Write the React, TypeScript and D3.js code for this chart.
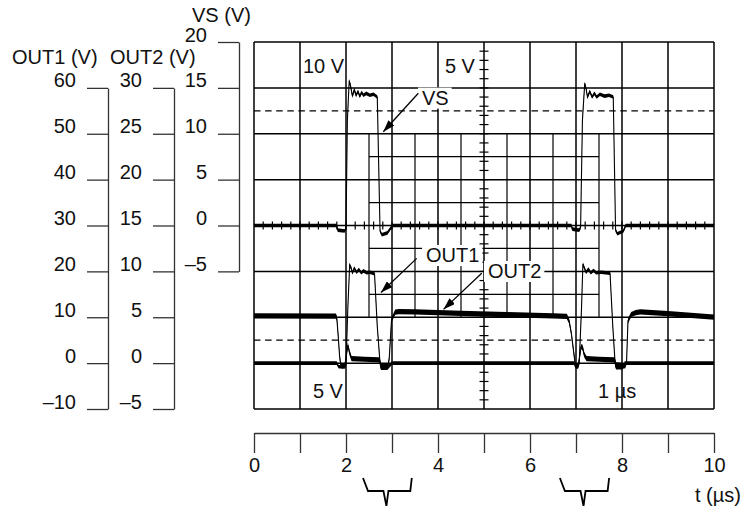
import * as d3 from "d3";
import { useEffect, useRef } from "react";

type Pt = [number, number];

// time axis, µs
const timeTicks = [0, 1, 2, 3, 4, 5, 6, 7, 8, 9, 10];
const timeLabels = [0, 2, 4, 6, 8, 10];

// the three voltage scales on the left
const out1Ticks = [60, 50, 40, 30, 20, 10, 0, -10];
const out2Ticks = [30, 25, 20, 15, 10, 5, 0, -5];
const vsTicks = [20, 15, 10, 5, 0, -5];

// overlays on the scope screen (VS units / µs)
const fineGridT = [2.5, 3.5, 4.5, 5.5, 6.5, 7.5];
const fineGridV = [7.5, 2.5, -2.5, -7.5];
const dashedLevels = [12.5, -12.5];
const zoomWindows: Pt[] = [
  [2.37, 3.43],
  [6.65, 7.72],
];

// traces: [t (µs), volts]
const vsTrace: Pt[] = [
  [0, 0], [1.8, 0], [1.82, -0.5], [1.97, -0.6], [2.0, -0.3], [2.03, 11.5],
  [2.07, 15.8], [2.1, 15.2], [2.14, 14.1], [2.18, 14.8], [2.22, 14.2],
  [2.26, 14.6], [2.3, 14.1], [2.34, 14.5], [2.38, 14.2], [2.44, 14.4],
  [2.52, 14.2], [2.6, 14.3], [2.68, 14.0], [2.74, -0.6], [2.78, -1.0],
  [2.9, -0.8], [2.97, -0.3], [3.02, 0], [6.9, 0], [6.92, -0.4], [7.07, -0.5],
  [7.1, -0.2], [7.14, 11.5], [7.19, 15.5], [7.22, 14.9], [7.25, 14.0],
  [7.3, 14.6], [7.35, 14.0], [7.4, 14.4], [7.45, 14.0], [7.52, 14.3],
  [7.62, 14.1], [7.72, 14.2], [7.81, 14.0], [7.86, -0.5], [7.9, -0.9],
  [8.03, -0.6], [8.08, 0], [10, 0],
];

const out1Trace: Pt[] = [
  [0, 0], [1.8, 0], [1.84, -0.8], [1.98, -0.8], [2.0, -0.2], [2.04, 12],
  [2.08, 21.4], [2.11, 20.8], [2.14, 19.7], [2.18, 20.7], [2.23, 19.8],
  [2.28, 20.4], [2.33, 19.7], [2.38, 20.1], [2.45, 19.7], [2.52, 19.8],
  [2.62, 19.5], [2.68, 8], [2.74, 0], [2.76, -1.1], [2.9, -1.1], [2.96, -0.4],
  [3.0, 0], [6.96, 0], [6.99, -0.8], [7.04, -0.8], [7.07, 0], [7.12, 12],
  [7.15, 21.6], [7.18, 20.8], [7.22, 19.8], [7.27, 20.5], [7.32, 19.7],
  [7.38, 20.2], [7.44, 19.7], [7.55, 19.8], [7.74, 19.6], [7.8, 8],
  [7.85, 0], [7.87, -1.0], [8.02, -1.0], [8.06, 0], [10, 0],
];

const out2Trace: Pt[] = [
  [0, 5.15], [1.78, 5.12], [1.8, 4.9], [1.83, 3.0], [1.86, 0.8], [1.88, 0.0],
  [1.9, -0.3], [1.97, -0.3], [1.99, 0.2], [2.04, 1.96], [2.08, 1.1],
  [2.12, 0.5], [2.4, 0.42], [2.73, 0.35], [2.76, -0.3], [2.91, -0.35],
  [2.94, 0.5], [2.99, 4.7], [3.07, 5.55], [3.15, 5.62], [3.5, 5.58],
  [4.5, 5.42], [5.5, 5.28], [6.5, 5.15], [6.8, 5.1], [6.85, 4.6], [6.9, 3.2],
  [6.95, 1.2], [6.98, 0.0], [7.0, -0.3], [7.05, -0.3], [7.07, 0.4],
  [7.11, 1.78], [7.14, 1.75], [7.18, 0.9], [7.23, 0.5], [7.5, 0.42],
  [7.84, 0.35], [7.87, -0.2], [8.07, -0.3], [8.1, 0.2], [8.13, 4.6],
  [8.2, 5.3], [8.3, 5.5], [8.4, 5.58], [9.0, 5.4], [10, 5.02],
];

const App = () => {
  const ref = useRef<SVGSVGElement | null>(null);

  useEffect(() => {
    const svg = d3.select(ref.current);
    svg.selectAll("*").remove();

    const width = 743,
      height = 506;
    const plot = { left: 254, right: 714, top: 42, bottom: 409 };
    const font = "'Liberation Sans', Arial, Helvetica, sans-serif";
    const fmt = (d: d3.NumberValue) =>
      +d < 0 ? `\u2013${Math.abs(+d)}` : `${d}`;

    const x = d3.scaleLinear().domain([0, 10]).range([plot.left, plot.right]);
    const yVS = d3.scaleLinear().domain([-20, 20]).range([plot.bottom, plot.top]);
    const yOut1 = d3.scaleLinear().domain([-10, 70]).range([plot.bottom, plot.top]);
    const yOut2 = d3.scaleLinear().domain([-5, 35]).range([plot.bottom, plot.top]);

    svg.append("rect").attr("width", width).attr("height", height).attr("fill", "#fff");

    svg
      .append("defs")
      .append("marker")
      .attr("id", "arrowhead")
      .attr("markerUnits", "userSpaceOnUse")
      .attr("viewBox", "0 0 12 8")
      .attr("markerWidth", 12)
      .attr("markerHeight", 8)
      .attr("refX", 12)
      .attr("refY", 4)
      .attr("orient", "auto")
      .append("path")
      .attr("d", "M0,0L12,4L0,8Z")
      .attr("fill", "#000");

    // graticule
    const grid = svg.append("g").attr("stroke", "#000").attr("stroke-width", 1.5);
    grid
      .selectAll(".gv")
      .data(timeTicks)
      .join("line")
      .attr("class", "gv")
      .attr("x1", (d) => x(d))
      .attr("x2", (d) => x(d))
      .attr("y1", plot.top)
      .attr("y2", plot.bottom);
    grid
      .selectAll(".gh")
      .data(d3.range(-20, 21, 5))
      .join("line")
      .attr("class", "gh")
      .attr("x1", plot.left)
      .attr("x2", plot.right)
      .attr("y1", (d) => yVS(d))
      .attr("y2", (d) => yVS(d));

    // half-division grid left over from the zoomed screen
    const fine = svg.append("g").attr("stroke", "#000").attr("stroke-width", 1.2);
    fine
      .selectAll(".fv")
      .data(fineGridT)
      .join("line")
      .attr("class", "fv")
      .attr("x1", (d) => x(d))
      .attr("x2", (d) => x(d))
      .attr("y1", yVS(10))
      .attr("y2", yVS(-10));
    fine
      .selectAll(".fh")
      .data(fineGridV)
      .join("line")
      .attr("class", "fh")
      .attr("x1", x(2.5))
      .attr("x2", x(7.5))
      .attr("y1", (d) => yVS(d))
      .attr("y2", (d) => yVS(d));

    // minor ticks on the centre lines
    const minor = svg.append("g").attr("stroke", "#000").attr("stroke-width", 1.2);
    minor
      .selectAll(".mt")
      .data(d3.range(1, 50))
      .join("line")
      .attr("class", "mt")
      .attr("x1", (d) => x(d * 0.2))
      .attr("x2", (d) => x(d * 0.2))
      .attr("y1", yVS(0) - 4)
      .attr("y2", yVS(0) + 4);
    minor
      .selectAll(".mv")
      .data(d3.range(-19, 20))
      .join("line")
      .attr("class", "mv")
      .attr("x1", x(5) - 4.5)
      .attr("x2", x(5) + 4.5)
      .attr("y1", (d) => yVS(d))
      .attr("y2", (d) => yVS(d));

    svg
      .append("g")
      .selectAll("line")
      .data(dashedLevels)
      .join("line")
      .attr("x1", plot.left)
      .attr("x2", plot.right)
      .attr("y1", (d) => yVS(d))
      .attr("y2", (d) => yVS(d))
      .attr("stroke", "#000")
      .attr("stroke-width", 1.3)
      .attr("stroke-dasharray", "6.5 4.6");

    // scope traces: a band for the trace thickness plus a thin centre line
    const drawTrace = (data: Pt[], y: d3.ScaleLinear<number, number>, half: number) => {
      const g = svg.append("g");
      g.append("path")
        .datum(data)
        .attr(
          "d",
          d3
            .area<Pt>()
            .x((d) => x(d[0]))
            .y0((d) => y(d[1]) - half)
            .y1((d) => y(d[1]) + half)
        )
        .attr("fill", "#000");
      g.append("path")
        .datum(data)
        .attr(
          "d",
          d3
            .line<Pt>()
            .x((d) => x(d[0]))
            .y((d) => y(d[1]))
        )
        .attr("fill", "none")
        .attr("stroke", "#000")
        .attr("stroke-width", 1.1);
    };
    drawTrace(out2Trace, yOut2, 2.6);
    drawTrace(out1Trace, yOut1, 1.8);
    drawTrace(vsTrace, yVS, 1.8);

    // text on the screen
    const screenText = (s: string, t: number, v: number) =>
      svg
        .append("text")
        .attr("x", x(t))
        .attr("y", yVS(v))
        .attr("font-family", font)
        .attr("font-size", 20)
        .attr("fill", "#111")
        .text(s);
    screenText("10 V", 1.065, 16.62);
    screenText("5 V", 4.15, 16.62);
    screenText("5 V", 1.28, -18.8);
    screenText("1 \u00b5s", 7.48, -18.8);

    const callout = (s: string, tx: number, ty: number, from: Pt, to: Pt) => {
      const g = svg.append("g");
      const rect = g.append("rect").attr("fill", "#fff");
      const txt = g
        .append("text")
        .attr("x", tx)
        .attr("y", ty)
        .attr("font-family", font)
        .attr("font-size", 20)
        .attr("fill", "#111")
        .text(s);
      const bb = (txt.node() as SVGTextElement).getBBox();
      rect
        .attr("x", bb.x - 4)
        .attr("y", bb.y + 1)
        .attr("width", bb.width + 7)
        .attr("height", bb.height - 1);
      g.append("line")
        .attr("x1", from[0])
        .attr("y1", from[1])
        .attr("x2", to[0])
        .attr("y2", to[1])
        .attr("stroke", "#000")
        .attr("stroke-width", 1.3)
        .attr("marker-end", "url(#arrowhead)");
    };
    callout("VS", x(3.652), yVS(13.18), [x(3.572), yVS(14.41)], [x(2.811), yVS(10.22)]);
    callout("OUT1", x(3.74), yOut1(22.04), [x(3.537), yOut1(22.84)], [x(2.76), yOut1(15.39)]);
    callout("OUT2", x(5.087), yOut2(9.28), [x(4.95), yOut2(9.79)], [x(4.12), yOut2(5.86)]);

    const styleAxis = (g: d3.Selection<SVGGElement, unknown, null, undefined>) => {
      g.selectAll("path, line").attr("stroke", "#333").attr("stroke-width", 1.3);
      g.selectAll("text")
        .attr("font-family", font)
        .attr("font-size", 20)
        .attr("fill", "#111");
    };

    // left voltage axes
    const leftAxis = (
      scale: d3.ScaleLinear<number, number>,
      ticks: number[],
      axisX: number
    ) => {
      const lo = d3.min(ticks) as number,
        hi = d3.max(ticks) as number;
      const s = scale.copy().domain([lo, hi]).range([scale(lo), scale(hi)]);
      const g = svg
        .append("g")
        .attr("transform", `translate(${axisX}, 0)`)
        .call(
          d3
            .axisLeft(s)
            .tickValues(ticks)
            .tickSize(21)
            .tickSizeOuter(0)
            .tickPadding(11)
            .tickFormat(fmt)
        );
      styleAxis(g);
      g.selectAll("text").attr("dy", -1);
    };
    leftAxis(yOut1, out1Ticks, 108);
    leftAxis(yOut2, out2Ticks, 174);
    leftAxis(yVS, vsTicks, 239);

    const title = (s: string, tx: number, ty: number) =>
      svg
        .append("text")
        .attr("x", tx)
        .attr("y", ty)
        .attr("font-family", font)
        .attr("font-size", 20)
        .attr("fill", "#111")
        .text(s);
    title("OUT1 (V)", 12, 64);
    title("OUT2 (V)", 110, 64);
    title("VS (V)", 192, 22);

    // time axis
    const tAxis = svg
      .append("g")
      .attr("transform", `translate(0, 433)`)
      .call(
        d3
          .axisBottom(x)
          .tickValues(timeTicks)
          .tickSize(20)
          .tickSizeOuter(0)
          .tickPadding(5)
          .tickFormat((d) => (timeLabels.includes(+d) ? `${d}` : ""))
      );
    styleAxis(tAxis);
    title("t (\u00b5s)", 695, 502);

    // braces marking the two switching windows
    svg
      .append("g")
      .selectAll("path")
      .data(zoomWindows)
      .join("path")
      .attr("d", ([a, b]) => {
        const x0 = x(a),
          x1 = x(b),
          m = x0 + 0.48 * (x1 - x0);
        return `M${x0},478L${x0 + 5},491L${m - 3},491L${m},506L${m + 2},491L${x1 - 1.5},491L${x1},478`;
      })
      .attr("fill", "none")
      .attr("stroke", "#000")
      .attr("stroke-width", 1.8);
  }, []);

  return (
    <svg
      ref={ref}
      width={743}
      height={506}
      style={{ position: "absolute", left: 0, top: 0, display: "block" }}
    ></svg>
  );
};

export default App;
